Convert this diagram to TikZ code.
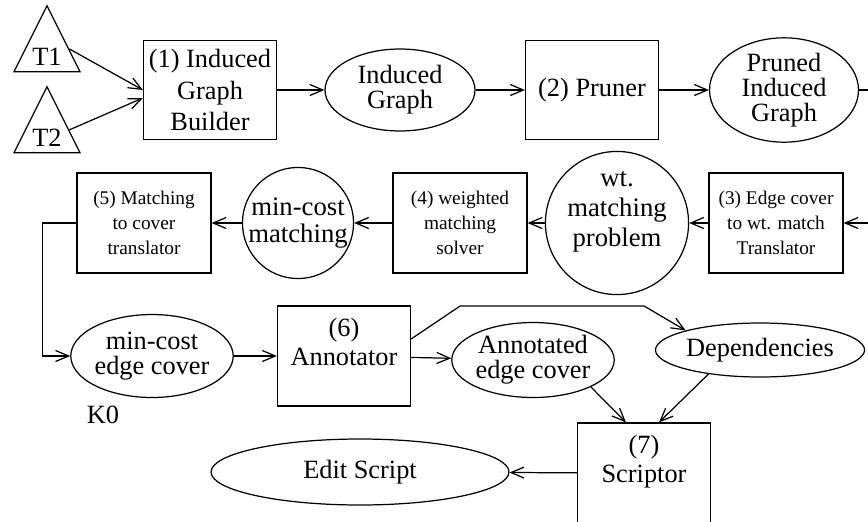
\documentclass[tikz,border=0pt]{standalone}
\usepackage{fontspec}
\setmainfont{Liberation Serif}
\usetikzlibrary{shapes.geometric, arrows.meta, positioning}

\begin{document}
\begin{tikzpicture}[x=0.02cm, y=-0.02cm,
  proc/.style={rectangle, draw, line width=0.7pt, minimum width=2.66cm, minimum height=1.98cm,
    inner sep=0pt, align=center, font=\fontsize{15}{16.5}\selectfont},
  smallproc/.style={proc, minimum width=2.68cm, minimum height=2cm, font=\fontsize{11}{14.2}\selectfont},
  data/.style={ellipse, draw, line width=0.7pt, inner sep=0pt, align=center,
    font=\fontsize{15}{14.2}\selectfont},
  circdata/.style={circle, draw, line width=0.7pt, inner sep=0pt, align=center,
    font=\fontsize{15.2}{15}\selectfont},
  tree/.style={isosceles triangle, isosceles triangle stretches, shape border rotate=90,
    draw, line width=0.7pt, minimum width=1.32cm, minimum height=1.32cm, inner sep=0pt,
    font=\fontsize{15}{17}\selectfont},
  arrow/.style={-{Straight Barb[length=0.26cm,width=0.22cm]}, line width=0.7pt}
]
  \useasboundingbox (0,0) rectangle (868,521);
  \clip (0,0) rectangle (868,521);

  % first row
  \node[tree] (t1) at (47,57) {T1};
  \node[tree] (t2) at (47,138) {T2};
  \node[proc, font=\fontsize{15}{18.2}\selectfont] (b1) at (210,90) {(1) Induced\\Graph\\Builder};
  \node[data, minimum width=3cm, minimum height=1.64cm] (ig) at (400,90) {Induced\\Graph};
  \node[proc] (b2) at (592,90) {(2) Pruner};
  \node[data, minimum width=2.98cm, minimum height=1.64cm] (pig) at (784,90) {Pruned\\Induced\\Graph};

  % second row
  \node[smallproc] (tr3) at (776,223) {(3) Edge cover\\to wt. match\\Translator};
  \node[circdata, minimum size=2.34cm, font=\fontsize{15.2}{17}\selectfont, text depth=16pt] (wmp) at (617,223) {wt.\\matching\\problem};
  \node[smallproc] (wms) at (460,223) {(4) weighted\\matching\\solver};
  \node[circdata, minimum size=2.2cm] (mcm) at (298,223) {min-cost\\matching};
  \node[smallproc] (mtc) at (144,223) {(5) Matching\\to cover\\translator};

  % third row
  \node[data, minimum width=2.98cm, minimum height=1.66cm] (mec) at (152,356) {min-cost\\edge cover};
  \node[font=\fontsize{15}{17}\selectfont] (k0) at (103,415) {K0};
  \node[proc, minimum height=2cm] (ann) at (344,356) {(6)\\Annotator\\\mbox{}};
  \node[data, minimum width=3cm, minimum height=1.5cm] (aec) at (533,360) {Annotated\\edge cover};
  \node[data, minimum width=4.14cm, minimum height=1.08cm] (dep) at (760,350) {Dependencies};
  \node[proc, minimum height=2cm] (scr) at (644,473) {(7)\\Scriptor\\\mbox{}};
  \node[data, minimum width=5.96cm, minimum height=1.32cm] (eds) at (360,472) {Edit Script};

  \draw[arrow] (t1.20) -- (b1.west);
  \draw[arrow] (t2.20) -- ([yshift=-0.16cm]b1.west);
  \draw[arrow] (b1) -- (ig);
  \draw[arrow] (ig) -- (b2);
  \draw[arrow] (b2) -- (pig);
  \draw[arrow] (pig.east) -- ++(15,0) |- (tr3.east);
  \draw[arrow] (tr3) -- (wmp);
  \draw[arrow] (wmp) -- (wms);
  \draw[arrow] (wms) -- (mcm);
  \draw[arrow] (mcm) -- (mtc);
  \draw[arrow] (mtc.west) -- ++(-34,0) |- (mec.west);
  \draw[arrow] (mec) -- (ann);
  \draw[arrow] (ann) -- (aec);
  \draw[arrow] ([yshift=0.34cm]ann.east) -- ++(49,-33) -- ++(184,0) -- (dep.north west);
  \draw[arrow] (aec.south east) -- ([xshift=-0.36cm]scr.north);
  \draw[arrow] (dep.205) -- ([xshift=0.3cm]scr.north);
  \draw[arrow] (scr) -- (eds);
\end{tikzpicture}
\end{document}
